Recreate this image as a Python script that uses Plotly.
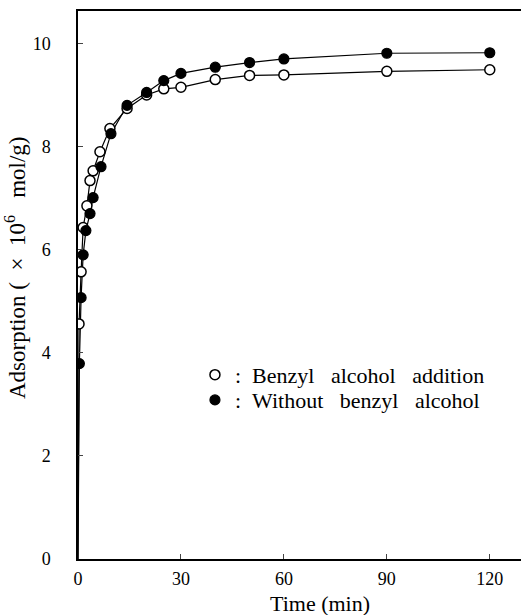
import plotly.graph_objects as go

# Time (min) and adsorption (x10^6 mol/g)
t_benzyl = [0.3, 0.9, 1.5, 2.6, 3.5, 4.4, 6.4, 9.3, 14.3, 20, 25, 30, 40, 50, 60, 90, 120]
y_benzyl = [4.56, 5.57, 6.43, 6.85, 7.34, 7.53, 7.90, 8.35, 8.74, 9.00, 9.12, 9.15, 9.30, 9.38, 9.39, 9.46, 9.49]

t_without = [0.4, 0.9, 1.5, 2.3, 3.5, 4.4, 6.7, 9.6, 14.3, 20, 25, 30, 40, 50, 60, 90, 120]
y_without = [3.79, 5.07, 5.90, 6.37, 6.70, 7.01, 7.61, 8.25, 8.80, 9.05, 9.28, 9.42, 9.54, 9.63, 9.70, 9.81, 9.82]

origin_t = [0]
origin_y = [0]

x_ticks = [0, 30, 60, 90, 120]
y_ticks = [0, 2, 4, 6, 8, 10]

FONT = "Liberation Serif"
SP = "\u00a0"

fig = go.Figure()

# connecting lines (curves start at the origin)
fig.add_trace(go.Scatter(x=origin_t + t_without, y=origin_y + y_without, mode="lines",
                         line=dict(color="black", width=1.2), showlegend=False, hoverinfo="skip"))
fig.add_trace(go.Scatter(x=origin_t + t_benzyl, y=origin_y + y_benzyl, mode="lines",
                         line=dict(color="black", width=1.2), showlegend=False, hoverinfo="skip"))

fig.add_trace(go.Scatter(x=t_benzyl, y=y_benzyl, mode="markers", legend="legend",
                         name=":" + SP * 2 + "Benzyl" + SP * 3 + "alcohol" + SP * 3 + "addition",
                         marker=dict(symbol="circle", size=10, color="white",
                                     line=dict(color="black", width=1.5))))
fig.add_trace(go.Scatter(x=t_without, y=y_without, mode="markers", legend="legend2",
                         name=":" + SP * 2 + "Without" + SP * 3 + "benzyl" + SP * 3 + "alcohol",
                         marker=dict(symbol="circle", size=10, color="black",
                                     line=dict(color="black", width=1.2))))

legend_common = dict(x=0.264, xanchor="left", yanchor="middle", bgcolor="rgba(0,0,0,0)",
                     font=dict(family=FONT, size=22, color="black"), itemwidth=30)

fig.update_layout(
    width=521, height=615,
    margin=dict(l=78, r=0, t=11, b=56),
    plot_bgcolor="white", paper_bgcolor="white",
    font=dict(family=FONT, size=18, color="black"),
    showlegend=True,
    legend=dict(y=0.336, **legend_common),
    legend2=dict(y=0.290, **legend_common),
    xaxis=dict(range=[0, 129.1], tickvals=x_ticks, ticks="inside", ticklen=5,
               showline=True, linecolor="black", linewidth=1.5, mirror=True,
               showgrid=False, zeroline=False, ticklabelstandoff=3,
               tickfont=dict(family=FONT, size=18)),
    yaxis=dict(range=[0, 10.63], tickvals=y_ticks, ticks="inside", ticklen=5,
               showline=True, linecolor="black", linewidth=1.5, mirror=False,
               showgrid=False, zeroline=False, ticklabelstandoff=22,
               tickfont=dict(family=FONT, size=18)),
    annotations=[
        dict(text="Time (min)", xref="paper", yref="paper",
             x=(320 - 78) / 443, y=-(603 - 559) / 548, xanchor="center", yanchor="middle",
             showarrow=False, font=dict(family=FONT, size=22)),
        dict(text="Adsorption" + SP + "(" + SP * 2 + "×" + SP * 2 + "10<sup>6</sup>" + SP * 3 + "mol/g)",
             xref="paper", yref="paper", textangle=-90,
             x=-(78 - 15) / 443, y=(559 - 268) / 548, xanchor="center", yanchor="middle",
             showarrow=False, font=dict(family=FONT, size=23)),
    ],
)

fig.write_html("out.html")
